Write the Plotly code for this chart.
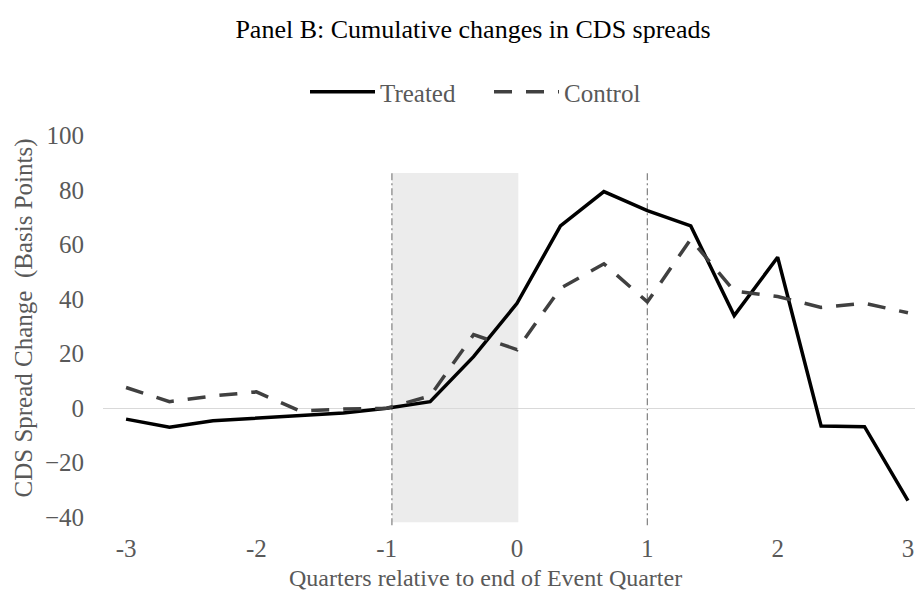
import plotly.graph_objects as go

# Quarters relative to the end of the event quarter (monthly steps)
quarters = [-3, -8/3, -7/3, -2, -5/3, -4/3, -1, -2/3, -1/3, 0,
            1/3, 2/3, 1, 4/3, 5/3, 2, 7/3, 8/3, 3]

# Cumulative CDS spread changes, basis points
treated = [-4.0, -7.0, -4.6, -3.7, -2.5, -1.8, 0.0, 2.4, 18.9, 38.5,
           66.9, 79.5, 72.5, 66.9, 34.0, 55.4, -6.5, -6.8, -33.9]
control = [7.6, 2.4, 4.5, 6.0, -1.0, -0.3, 0.0, 4.5, 27.0, 21.5,
           44.0, 53.0, 39.0, 62.0, 43.0, 41.0, 37.0, 38.5, 35.0]

x_ticks = [-3, -2, -1, 0, 1, 2, 3]
y_ticks = [-40, -20, 0, 20, 40, 60, 80, 100]

# Event window shading and markers
window_start, window_end = -0.96, 0.01
marker_lines = [-0.96, 1.0]

FONT = "Liberation Serif"
GREY_TXT = "#595959"

fig = go.Figure()

fig.add_trace(go.Scatter(
    x=quarters, y=treated, mode="lines", name="Treated",
    line=dict(color="#000000", width=3.5),
))
fig.add_trace(go.Scatter(
    x=quarters, y=control, mode="lines", name="Control",
    line=dict(color="#404040", width=3.5, dash="18px,14px"),
))

fig.add_shape(type="rect", xref="x", yref="y",
              x0=window_start, x1=window_end, y0=-41.9, y1=86.3,
              fillcolor="#ececec", line=dict(width=0), layer="below")
for xv in marker_lines:
    fig.add_shape(type="line", xref="x", yref="y",
                  x0=xv, x1=xv, y0=-43.0, y1=87.1,
                  line=dict(color="#808080", width=1.2, dash="7px,3px,2px,3px"),
                  layer="below")

fig.update_layout(
    width=915, height=593,
    margin=dict(l=103, r=0, t=130, b=63),
    paper_bgcolor="white", plot_bgcolor="white",
    font=dict(family=FONT, size=25, color=GREY_TXT),
    title=dict(text="Panel B: Cumulative changes in CDS spreads",
               font=dict(family=FONT, size=26, color="#000000"),
               x=473/915, xanchor="center", xref="container",
               y=1 - 29/593, yanchor="middle", yref="container"),
    showlegend=True,
    legend=dict(orientation="h", xref="container", yref="container",
                x=305/915, xanchor="left", y=1 - 92/593, yanchor="middle",
                font=dict(family=FONT, size=25, color=GREY_TXT),
                itemwidth=65, entrywidth=104, entrywidthmode="pixels",
                bgcolor="rgba(0,0,0,0)"),
    xaxis=dict(range=[-3.177, 3.054], tickmode="array", tickvals=x_ticks,
               ticktext=[str(v) for v in x_ticks],
               showgrid=False, zeroline=False, showline=False, ticks="",
               tickfont=dict(family=FONT, size=25, color=GREY_TXT),
               ticklabelstandoff=1),
    yaxis=dict(range=[-44.7, 102.1], tickmode="array", tickvals=y_ticks,
               showgrid=False, zeroline=True, zerolinecolor="#d9d9d9",
               zerolinewidth=1, showline=False, ticks="",
               tickfont=dict(family=FONT, size=25, color=GREY_TXT),
               ticklabelstandoff=18),
    annotations=[
        dict(text="Quarters relative to end of Event Quarter",
             xref="paper", yref="paper", x=(485 - 103) / 812, y=-(578 - 530) / 400,
             xanchor="center", yanchor="middle", showarrow=False,
             font=dict(family=FONT, size=24, color=GREY_TXT)),
        dict(text="CDS Spread Change\u00a0 (Basis Points)",
             xref="paper", yref="paper", x=-(103 - 23) / 812, y=(530 - 318.5) / 400,
             xanchor="center", yanchor="middle", textangle=-90, showarrow=False,
             font=dict(family=FONT, size=25, color=GREY_TXT)),
    ],
)

fig.write_html("out.html")
